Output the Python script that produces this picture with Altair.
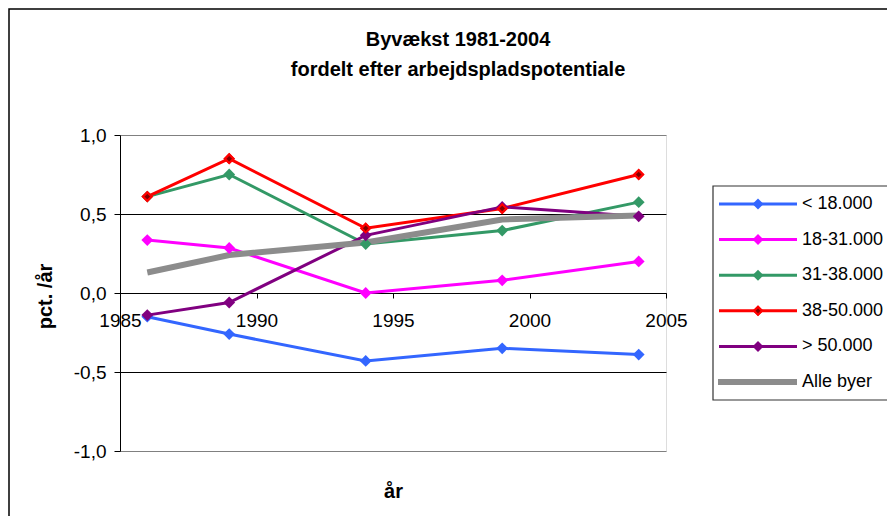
import altair as alt
import pandas as pd

# ---- data ----
years = [1986, 1989, 1994, 1999, 2004]
series_names = ["< 18.000", "18-31.000", "31-38.000", "38-50.000", "> 50.000", "Alle byer"]
v_lt18 = [-0.15, -0.26, -0.43, -0.35, -0.39]
v_18_31 = [0.335, 0.285, 0.0, 0.08, 0.20]
v_31_38 = [0.61, 0.75, 0.31, 0.395, 0.575]
v_38_50 = [0.61, 0.85, 0.41, 0.535, 0.75]
v_gt50 = [-0.14, -0.06, 0.365, 0.545, 0.485]
v_alle = [0.13, 0.24, 0.32, 0.465, 0.49]

colors = ["#3366FF", "#FF00FF", "#339966", "#FF0000", "#800080", "#8C8C8C"]

y_ticks = [-1.0, -0.5, 0.0, 0.5, 1.0]
x_ticks = [1985, 1990, 1995, 2000, 2005]

rows = []
for name, vals in zip(series_names, [v_lt18, v_18_31, v_31_38, v_38_50, v_gt50, v_alle]):
    for yr, v in zip(years, vals):
        rows.append({"aar": yr, "serie": name, "vaerdi": v})
df = pd.DataFrame(rows)
legend_df = pd.DataFrame({"serie": series_names, "pos": list(range(len(series_names)))})

FONT = "Liberation Sans"
color_scale = alt.Scale(domain=series_names, range=colors)

x_enc = alt.X(
    "aar:Q",
    scale=alt.Scale(domain=[1985, 2005], nice=False, zero=False),
    axis=alt.Axis(
        values=x_ticks,
        format="d",
        offset=-158,
        grid=False,
        domainColor="black",
        tickColor="black",
        tickSize=5,
        labelPadding=13,
        labelFontSize=19,
        labelFont=FONT,
        labelColor="black",
        labelFlush=False,
        labelOverlap=False,
        title="år",
        titleFont=FONT,
        titleFontSize=20,
        titleFontWeight="bold",
        titleColor="black",
        titleX=273,
        titleY=204,
        titleBaseline="alphabetic",
    ),
)

y_enc = alt.Y(
    "vaerdi:Q",
    scale=alt.Scale(domain=[-1, 1], nice=False),
    axis=alt.Axis(
        values=y_ticks,
        labelExpr="replace(replace(format(datum.value, '.1f'), '.', ','), '\u2212', '-')",
        grid=True,
        gridColor={"condition": {"test": "abs(datum.value) == 1", "value": "#808080"}, "value": "#000000"},
        gridWidth=1,
        domainColor="black",
        tickColor="black",
        tickSize=6,
        labelPadding=8,
        labelFontSize=19,
        labelFont=FONT,
        labelColor="black",
        title="pct. /år",
        titleFont=FONT,
        titleFontSize=20,
        titleFontWeight="bold",
        titleColor="black",
        titleX=-69,
        titleY=161,
        titleAlign="center",
        titleBaseline="alphabetic",
    ),
)

color_enc = alt.Color("serie:N", scale=color_scale, legend=None)

base = alt.Chart(df)
lines = base.transform_filter(alt.datum.serie != "Alle byer").mark_line(strokeWidth=3).encode(
    x=x_enc, y=y_enc, color=color_enc
)
alle = base.transform_filter(alt.datum.serie == "Alle byer").mark_line(strokeWidth=6).encode(
    x="aar:Q", y="vaerdi:Q", color=color_enc
)
points = base.transform_filter(alt.datum.serie != "Alle byer").mark_point(
    shape="diamond", filled=True, size=140, opacity=1
).encode(x="aar:Q", y="vaerdi:Q", color=color_enc)
red_pts = base.transform_filter(alt.datum.serie == "38-50.000").mark_point(
    shape="diamond", filled=True, size=70, opacity=1, fill="#800000", stroke="#FF0000", strokeWidth=2
).encode(x="aar:Q", y="vaerdi:Q")

main = alt.layer(lines, alle, points, red_pts)

# ---- hand-built legend (line + diamond symbols) ----
leg_y = alt.Y("pos:Q", scale=alt.Scale(domain=[0, 5], range=[69, 247], nice=False, zero=False), axis=None)
lbase = alt.Chart(legend_df)
leg_box = alt.Chart(pd.DataFrame({"k": [0]})).mark_rect(
    fill="white", stroke="#333333", strokeWidth=1.2
).encode(x=alt.value(593), x2=alt.value(800), y=alt.value(51), y2=alt.value(265))
leg_rules = lbase.transform_filter(alt.datum.serie != "Alle byer").mark_rule(strokeWidth=3).encode(
    x=alt.value(599), x2=alt.value(677), y=leg_y, color=color_enc
)
leg_alle = lbase.transform_filter(alt.datum.serie == "Alle byer").mark_rule(strokeWidth=6).encode(
    x=alt.value(598), x2=alt.value(677), y=leg_y, color=color_enc
)
leg_pts = lbase.transform_filter(alt.datum.serie != "Alle byer").mark_point(
    shape="diamond", filled=True, size=120, opacity=1
).encode(x=alt.value(638), y=leg_y, color=color_enc)
leg_red = lbase.transform_filter(alt.datum.serie == "38-50.000").mark_point(
    shape="diamond", filled=True, size=60, opacity=1, fill="#800000", stroke="#FF0000", strokeWidth=2
).encode(x=alt.value(638), y=leg_y)
leg_text = lbase.mark_text(align="left", baseline="middle", fontSize=18, font=FONT, color="black").encode(
    x=alt.value(682), y=leg_y, text="serie:N"
)
# outer chart frame (only its left and top edges fall inside the picture, as in the reference)
frame = alt.Chart(pd.DataFrame({"k": [0]})).mark_rect(filled=False, stroke="black", strokeWidth=1.5).encode(
    x=alt.value(-111), x2=alt.value(900), y=alt.value(-126), y2=alt.value(500)
)

legend_layer = alt.layer(leg_box, leg_rules, leg_alle, leg_pts, leg_red, leg_text, frame)

chart = alt.layer(main, legend_layer).resolve_scale(y="independent").properties(
    width=546,
    height=316,
    autosize=alt.AutoSizeParams(type="none"),
    padding={"left": 112, "top": 127, "right": 221, "bottom": 65},
    title=alt.TitleParams(
        text=["Byvækst 1981-2004", "fordelt efter arbejdspladspotentiale"],
        font=FONT,
        fontSize=20,
        fontWeight="bold",
        color="black",
        anchor="middle",
        frame="group",
        dx=65,
        offset=-72,
        lineHeight=30,
    ),
).configure_view(stroke="#808080", strokeWidth=2).configure(background="white")

chart.save("out.html", embed_options={"renderer": "svg", "actions": False})
